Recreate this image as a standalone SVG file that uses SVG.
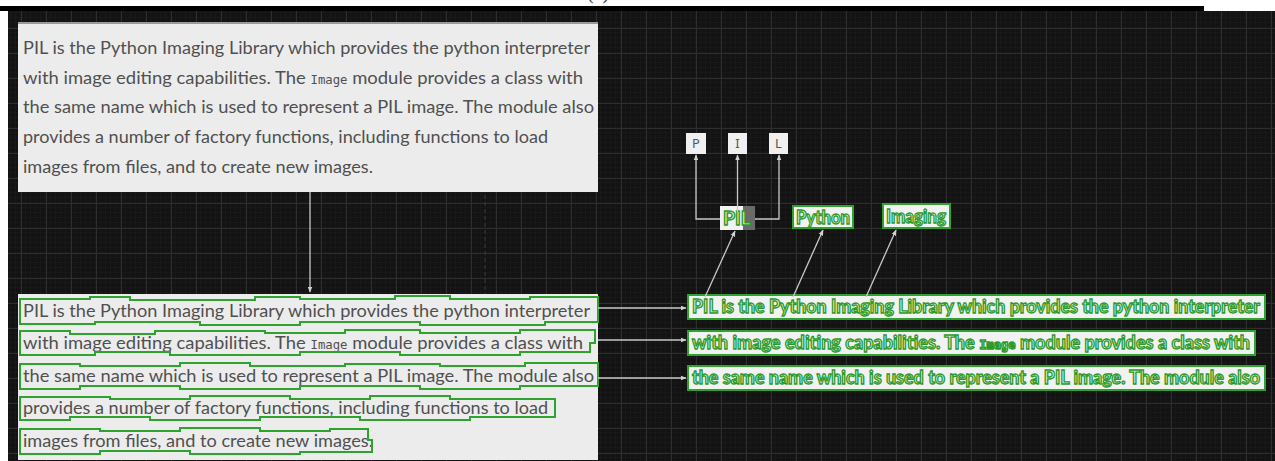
<svg xmlns="http://www.w3.org/2000/svg" width="1275" height="461" viewBox="0 0 1275 461">
  <defs>
    <pattern id="minor" x="1" y="3" width="5" height="5" patternUnits="userSpaceOnUse">
      <path d="M5,0 V5 M0,5 H5" stroke="#1b1b1b" stroke-width="1" fill="none"/>
    </pattern>
    <pattern id="major" x="21" y="3" width="25" height="25" patternUnits="userSpaceOnUse">
      <path d="M0.5,0 V25 M0,0.5 H25" stroke="#2e2e2e" stroke-width="1" fill="none"/>
    </pattern>
    <marker id="ah" viewBox="0 0 10 10" refX="9" refY="5" markerWidth="6" markerHeight="6" orient="auto-start-reverse" markerUnits="userSpaceOnUse">
      <path d="M0,1 L10,5 L0,9 Z" fill="#d0d0d0"/>
    </marker>
    <style>
      .para { font-family: Lato, "Noto Sans", "Liberation Sans", sans-serif; font-size: 18px; fill: #505050; }
      .mono { font-family: "DejaVu Sans Mono", "Liberation Mono", monospace; font-size: 12px; }
      .box { fill: #ececec; }
      .det { fill: none; stroke: #2ea32e; stroke-width: 2; stroke-linejoin: miter; }
      .strip { fill: #f2f2f2; stroke: #2ea32e; stroke-width: 2; }
      .gtext { font-family: Lato, "Noto Sans", "Liberation Sans", sans-serif; font-size: 18px; font-weight: bold; fill: #e6f5e0; stroke: #2a9a2a; stroke-width: 1.3; }
      .conn { stroke: #c8c8c8; stroke-width: 1.3; fill: none; }
      .small { fill: #f0f0f0; }
      .letter { font-family: "Noto Sans", "Liberation Sans", sans-serif; font-size: 13px; fill: #555555; text-anchor: middle; }
    </style>
  </defs>

  <!-- page background -->
  <rect x="0" y="0" width="1275" height="461" fill="#ffffff"/>
  <text x="598" y="-1" font-family="Liberation Serif, serif" font-size="20" fill="#333" text-anchor="middle">(a)</text>
  <rect x="0" y="6" width="1204" height="5" fill="#000000"/>
  <rect x="8" y="11" width="1267" height="450" fill="#131313"/>
  <rect x="8" y="11" width="1267" height="450" fill="url(#minor)"/>
  <rect x="8" y="11" width="1267" height="450" fill="url(#major)"/>
  <line x1="485" y1="195" x2="485" y2="295" stroke="#3a3a3a" stroke-width="1" stroke-dasharray="4 3"/>

  <!-- top paragraph -->
  <g id="node-top-paragraph">
    <rect class="box" x="18" y="22" width="580" height="170"/>
    <rect x="18" y="22" width="580" height="2" fill="#9a9a9a"/>
    <text class="para" x="23" y="54" textLength="567" lengthAdjust="spacingAndGlyphs">PIL is the Python Imaging Library which provides the python interpreter</text>
    <text class="para" x="23" y="84" textLength="560" lengthAdjust="spacingAndGlyphs">with image editing capabilities. The <tspan class="mono">Image</tspan> module provides a class with</text>
    <text class="para" x="23" y="113" textLength="571" lengthAdjust="spacingAndGlyphs">the same name which is used to represent a PIL image. The module also</text>
    <text class="para" x="23" y="143" textLength="525" lengthAdjust="spacingAndGlyphs">provides a number of factory functions, including functions to load</text>
    <text class="para" x="23" y="173" textLength="350" lengthAdjust="spacingAndGlyphs">images from files, and to create new images.</text>
  </g>

  <!-- bottom paragraph with detection outlines -->
  <g id="node-bottom-paragraph">
    <rect class="box" x="18" y="294" width="580" height="166"/>
    <text class="para" x="23" y="317" textLength="567" lengthAdjust="spacingAndGlyphs">PIL is the Python Imaging Library which provides the python interpreter</text>
    <text class="para" x="23" y="349" textLength="560" lengthAdjust="spacingAndGlyphs">with image editing capabilities. The <tspan class="mono">Image</tspan> module provides a class with</text>
    <text class="para" x="23" y="382" textLength="571" lengthAdjust="spacingAndGlyphs">the same name which is used to represent a PIL image. The module also</text>
    <text class="para" x="23" y="414" textLength="525" lengthAdjust="spacingAndGlyphs">provides a number of factory functions, including functions to load</text>
    <text class="para" x="23" y="447" textLength="350" lengthAdjust="spacingAndGlyphs">images from files, and to create new images.</text>
    <path class="det" d="M20,299 H90 V297 H130 V300 H255 V297 H300 V299 H395 V296 H450 V299 H530 V297 H598 V322 H545 V325 H420 V322 H300 V325 H200 V322 H95 V324 H20 Z"/>
    <path class="det" d="M20,331 H70 V334 H155 V331 H265 V333 H345 V330 H420 V333 H520 V330 H595 V343 H590 V352 H520 V355 H400 V352 H300 V355 H170 V352 H95 V355 H20 Z"/>
    <path class="det" d="M20,364 H80 V366 H180 V363 H250 V366 H345 V364 H440 V366 H525 V363 H598 V386 H520 V389 H420 V386 H300 V389 H180 V386 H80 V389 H20 Z"/>
    <path class="det" d="M20,397 H110 V399 H190 V396 H290 V399 H370 V396 H450 V399 H555 V417 H470 V420 H360 V417 H260 V420 H150 V417 H70 V420 H20 Z"/>
    <path class="det" d="M20,429 H100 V431 H180 V428 H260 V431 H330 V429 H368 V440 H372 V452 H300 V454 H190 V451 H100 V454 H20 Z"/>
  </g>

  <!-- right strips -->
  <g id="node-strip-1">
    <rect class="strip" x="688" y="295" width="577" height="24"/>
    <text class="gtext" x="692" y="313" textLength="568" lengthAdjust="spacingAndGlyphs">PIL is the Python Imaging Library which provides the python interpreter</text>
  </g>
  <g id="node-strip-2">
    <rect class="strip" x="688" y="331" width="567" height="24"/>
    <text class="gtext" x="692" y="349" textLength="558" lengthAdjust="spacingAndGlyphs">with image editing capabilities. The <tspan class="mono" font-weight="bold">Image</tspan> module provides a class with</text>
  </g>
  <g id="node-strip-3">
    <rect class="strip" x="688" y="366" width="577" height="24"/>
    <text class="gtext" x="692" y="384" textLength="568" lengthAdjust="spacingAndGlyphs">the same name which is used to represent a PIL image. The module also</text>
  </g>

  <!-- word boxes -->
  <g id="node-PIL">
    <rect x="720" y="206" width="35" height="24" fill="#f2f2f2"/>
    <rect x="743" y="206" width="12" height="24" fill="#6a6a6a"/>
    <text class="gtext" x="723" y="225" textLength="28" lengthAdjust="spacingAndGlyphs">PIL</text>
  </g>
  <g id="node-Python">
    <rect class="strip" x="793" y="206" width="60" height="22" stroke-width="1.5"/>
    <text class="gtext" x="796" y="224" textLength="54" lengthAdjust="spacingAndGlyphs">Python</text>
  </g>
  <g id="node-Imaging">
    <rect class="strip" x="883" y="204" width="67" height="24" stroke-width="1.5"/>
    <text class="gtext" x="886" y="223" textLength="60" lengthAdjust="spacingAndGlyphs">Imaging</text>
  </g>
  <g id="node-P">
    <rect class="small" x="686" y="133" width="20" height="21"/>
    <text class="letter" x="696" y="148">P</text>
  </g>
  <g id="node-I">
    <rect class="small" x="728" y="133" width="19" height="21"/>
    <text class="letter" x="737.5" y="148">I</text>
  </g>
  <g id="node-L">
    <rect class="small" x="769" y="133" width="19" height="21"/>
    <text class="letter" x="778.5" y="148">L</text>
  </g>

  <!-- connectors -->
  <g id="connectors">
    <line class="conn" x1="310" y1="192" x2="310" y2="292" marker-end="url(#ah)"/>
    <line class="conn" x1="598" y1="308" x2="686" y2="308" marker-end="url(#ah)"/>
    <line class="conn" x1="598" y1="340" x2="686" y2="340" marker-end="url(#ah)"/>
    <line class="conn" x1="598" y1="378" x2="686" y2="378" marker-end="url(#ah)"/>
    <polyline class="conn" points="720,219 696,219 696,155" marker-end="url(#ah)"/>
    <line class="conn" x1="737.5" y1="212" x2="737.5" y2="155" marker-end="url(#ah)"/>
    <polyline class="conn" points="755,219 779,219 779,155" marker-end="url(#ah)"/>
    <line class="conn" x1="705" y1="297" x2="735" y2="231" marker-end="url(#ah)"/>
    <line class="conn" x1="793" y1="297" x2="823" y2="230" marker-end="url(#ah)"/>
    <line class="conn" x1="866" y1="297" x2="896" y2="230" marker-end="url(#ah)"/>
  </g>
</svg>
